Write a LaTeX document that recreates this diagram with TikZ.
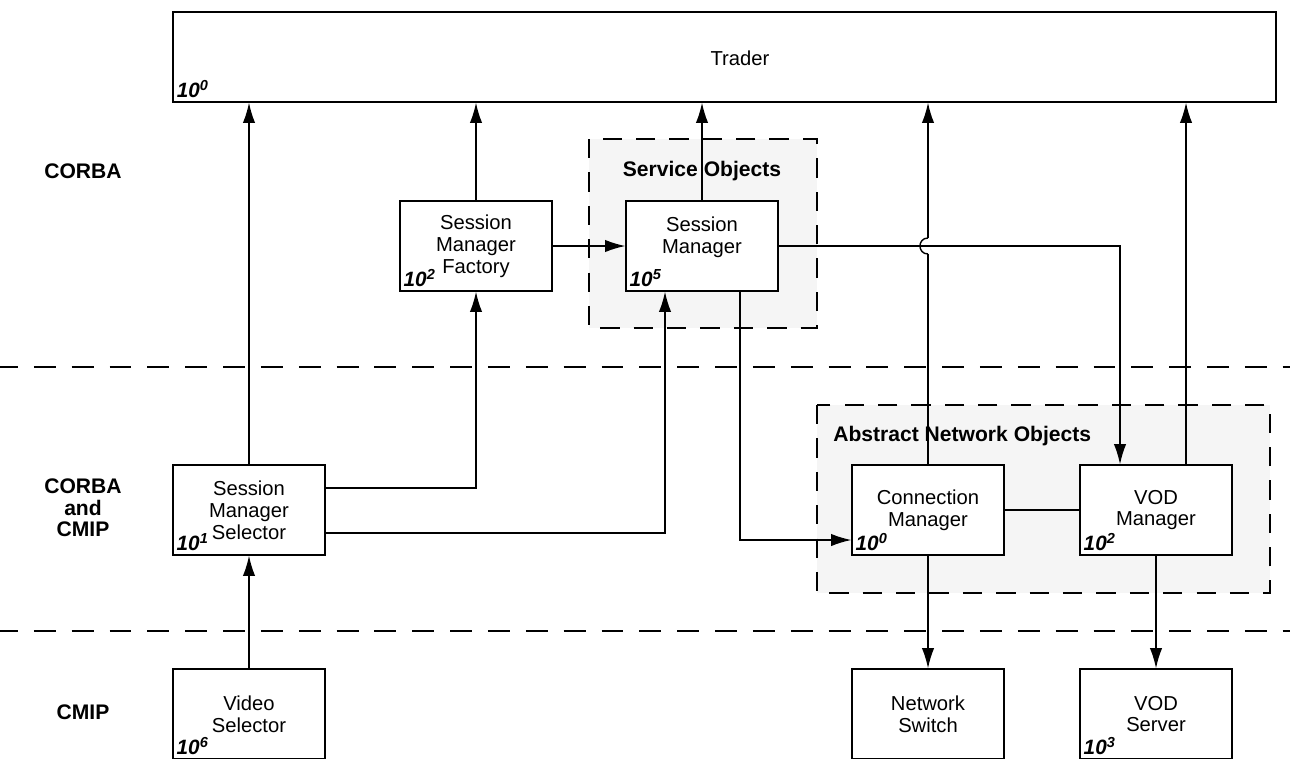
\documentclass[tikz,border=0pt]{standalone}
\usepackage{fontspec}
\setmainfont{Liberation Sans}
\usetikzlibrary{arrows.meta,calc}
\definecolor{grp}{HTML}{F5F5F5}
\begin{document}
\begin{tikzpicture}[x=0.02cm,y=-0.02cm,
  box/.style={draw, fill=white, line width=0.75pt, minimum width=3.04cm, minimum height=1.8cm, inner sep=0pt, align=center, font=\fontsize{11.5}{12.4}\selectfont},
  txt/.style={align=center, inner sep=0pt, font=\fontsize{11.5}{12.4}\selectfont},
  expo/.style={font=\fontsize{11.8}{12}\selectfont\bfseries\itshape, inner sep=0pt, anchor=base west},
  layer/.style={font=\fontsize{12}{12.3}\selectfont\bfseries, align=center, inner sep=0pt},
  grplabel/.style={font=\fontsize{12}{12.3}\selectfont\bfseries, inner sep=0pt},
  arr/.style={-{Latex[length=11.5pt,width=7pt]}, line width=0.8pt},
  conn/.style={line width=0.8pt},
  sep/.style={line width=0.75pt, dash pattern=on 12.47pt off 9.07pt},
  grpbox/.style={fill=grp, line width=0.75pt, dash pattern=on 11pt off 8pt}]
\clip (0,0) rectangle (1290,758);
\useasboundingbox (0,0) rectangle (1290,758);

% layer separators
\draw[sep] (-4,367) -- (1295,367);
\draw[sep] (-4,631) -- (1295,631);

% groups
\draw[grpbox] (589,139) rectangle (817,328);
\draw[grpbox] (817,405) rectangle (1270,593);
\node[grplabel] (solabel) at (702,171) {Service Objects};
\node[grplabel, anchor=west] (anolabel) at (833,436) {Abstract Network Objects};

% layer labels
\node[layer] (l1) at (83,171) {CORBA};
\node[layer] (l2) at (83,508) {CORBA\\and\\CMIP};
\node[layer] (l3) at (83,712) {CMIP};

% trader
\node[draw, line width=0.75pt, minimum width=22.06cm, minimum height=1.8cm, inner sep=0pt] (trader) at (724.5,57) {};
\node[txt] (tradertxt) at (740,58) {Trader};
\node[expo] at ($(trader.south west)+(4,-5)$) {10\textsuperscript{0}};

% boxes
\node[box] (fac) at (476,246) {Session\\Manager\\Factory};
\node[box] (sm) at (702,246) {};
\node[txt] (smtxt) at ($(sm)+(0,-9)$) {Session\\Manager};
\node[box] (sel) at (249,510) {Session\\Manager\\Selector};
\node[box] (cm) at (928,510) {Connection\\Manager};
\node[box] (vod) at (1156,510) {VOD\\Manager};
\node[box] (vs) at (249,714) {Video\\Selector};
\node[box] (ns) at (928,714) {Network\\Switch};
\node[box] (vsrv) at (1156,714) {VOD\\Server};

\node[expo] at ($(fac.south west)+(4,-5)$) {10\textsuperscript{2}};
\node[expo] at ($(sm.south west)+(4,-5)$) {10\textsuperscript{5}};
\node[expo] at ($(sel.south west)+(4,-5)$) {10\textsuperscript{1}};
\node[expo] at ($(cm.south west)+(4,-5)$) {10\textsuperscript{0}};
\node[expo] at ($(vod.south west)+(4,-5)$) {10\textsuperscript{2}};
\node[expo] at ($(vs.south west)+(4,-5)$) {10\textsuperscript{6}};
\node[expo] at ($(vsrv.south west)+(4,-5)$) {10\textsuperscript{3}};

% connectors to trader
\draw[arr] (sel.north) -- (sel.north |- trader.south);
\draw[arr] (fac.north) -- (fac.north |- trader.south);
\draw[arr] (sm.north) -- (sm.north |- trader.south);
\coordinate (hopc) at (cm.north |- sm.east);
\coordinate (hopa) at ($(hopc)+(0,8)$);
\coordinate (hopb) at ($(hopc)+(0,-8)$);
\draw[conn] (cm.north) -- (hopa);
\draw[conn] (hopa) .. controls ($(hopa)+(-10.7,0)$) and ($(hopb)+(-10.7,0)$) .. (hopb);
\draw[arr] (hopb) -- (cm.north |- trader.south);
\coordinate (vodup) at ($(vod.north)+(30,0)$);
\draw[arr] (vodup) -- (vodup |- trader.south);

% other connectors
\draw[arr] (fac.east) -- (sm.west);
\draw[arr] (sm.east) -| ($(vod.north)+(-36,0)$);
\draw[arr] ($(sm.south)+(38,0)$) |- ($(cm.west)+(0,30)$);
\draw[arr] ($(sel.east)+(0,-22)$) -| (fac.south);
\draw[arr] ($(sel.east)+(0,23)$) -| ($(sm.south)+(-37,0)$);
\draw[conn] (cm.east) -- (vod.west);
\draw[arr] (cm.south) -- (ns.north);
\draw[arr] (vod.south) -- (vsrv.north);
\draw[arr] (vs.north) -- (sel.south);
\end{tikzpicture}
\end{document}
